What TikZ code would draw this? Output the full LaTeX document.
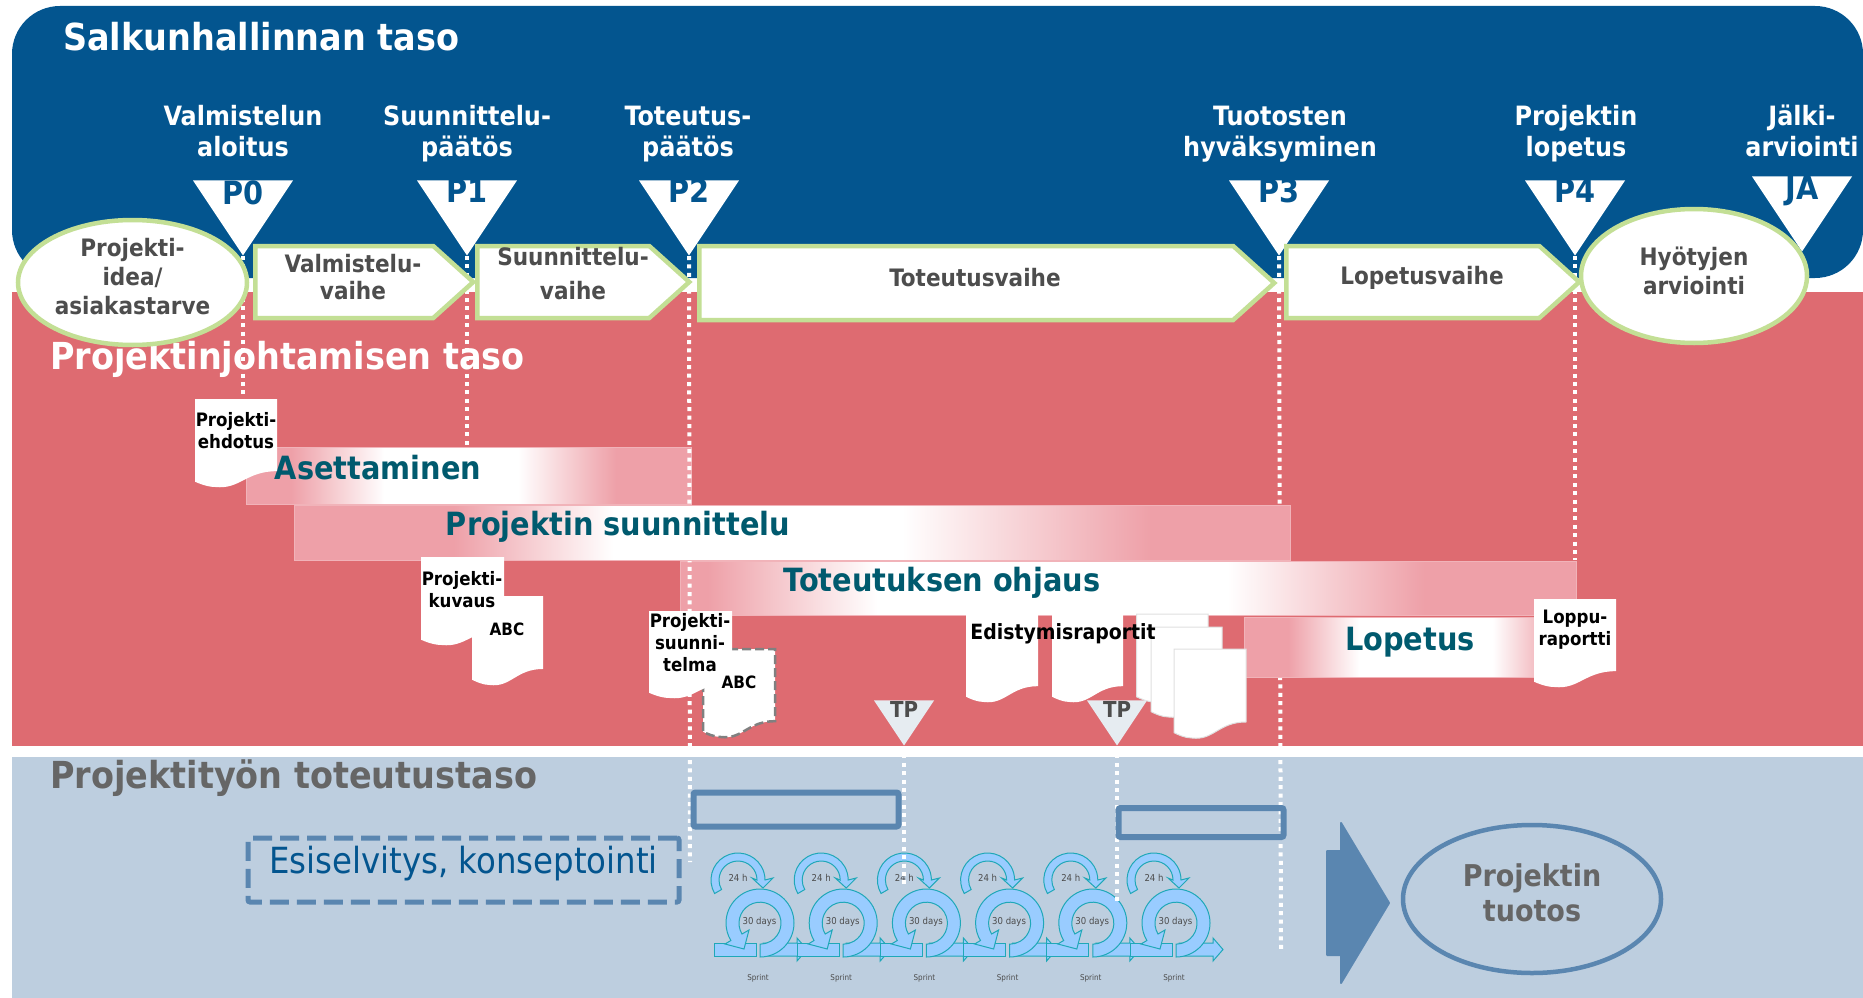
\documentclass[tikz,border=0pt]{standalone}
\usepackage{fontspec}
\setmainfont{DejaVu Sans Condensed}
\usepackage{xcolor}
\usepackage{tikz}
\usetikzlibrary{shapes.geometric, shapes.symbols, positioning}

\definecolor{salkublue}{HTML}{03558F}
\definecolor{johtored}{HTML}{DE6B71}
\definecolor{tasoblue}{HTML}{BDCEDF}
\definecolor{slateblue}{HTML}{5A86B0}
\definecolor{phasegreen}{HTML}{C3DF95}
\definecolor{darktext}{HTML}{4D4D4D}
\definecolor{greytext}{HTML}{666666}
\definecolor{tealtext}{HTML}{005A6E}
\definecolor{bandpink}{HTML}{EEA0A8}
\definecolor{sprintfill}{HTML}{99CCFF}
\definecolor{sprintline}{HTML}{1FA8B8}

\pgfdeclarehorizontalshading{asetusshade}{100bp}{color(0bp)=(bandpink); color(30bp)=(bandpink); color(40.5bp)=(white); color(55.5bp)=(white); color(66.5bp)=(bandpink); color(100bp)=(bandpink)}
\pgfdeclarehorizontalshading{suunnshade}{100bp}{color(0bp)=(bandpink); color(33bp)=(bandpink); color(41bp)=(white); color(55.5bp)=(white); color(68bp)=(bandpink); color(100bp)=(bandpink)}
\pgfdeclarehorizontalshading{ohjausshade}{100bp}{color(0bp)=(bandpink); color(26.5bp)=(bandpink); color(36bp)=(white); color(55.5bp)=(white); color(66.5bp)=(bandpink); color(100bp)=(bandpink)}
\pgfdeclarehorizontalshading{lopetusshade}{100bp}{color(0bp)=(bandpink); color(32bp)=(bandpink); color(43.5bp)=(white); color(65bp)=(white); color(75bp)=(bandpink); color(100bp)=(bandpink)}

\newcommand{\docpage}[5][docbody]{%
  \path[#1] (#2,#3) -- ++(#4,0) -- ++(0,{0.82*#5})
    .. controls ++({-0.38*#4},0) and ++({0.30*#4},{0.03*#5}) .. ++({-0.75*#4},{0.18*#5})
    .. controls ++({-0.10*#4},0) and ++({0.05*#4},{0.02*#5}) .. ++({-0.25*#4},{-0.06*#5})
    -- cycle;
}

\begin{document}
\begin{tikzpicture}[
    x=1pt, y=-1pt,
    leveltitle/.style={font=\fontsize{37.2}{42}\selectfont\bfseries, anchor=west, inner sep=0pt},
    gatehead/.style={font=\fontsize{26.6}{31}\selectfont\bfseries, text=white, align=center, inner sep=0pt},
    gate/.style={isosceles triangle, isosceles triangle stretches, shape border rotate=-90, fill=white, minimum width=100, minimum height=75, inner sep=0pt, anchor=apex},
    gatename/.style={font=\fontsize{32}{36}\selectfont\bfseries, text=salkublue, inner sep=0pt},
    phase/.style={signal, signal to=east, signal pointer angle=84, draw=phasegreen, line width=4.5pt, fill=white, minimum height=72, inner sep=0pt, anchor=west},
    phasetext/.style={font=\fontsize{24}{27}\selectfont\bfseries, text=darktext, align=center, inner sep=0pt},
    oval/.style={ellipse, draw=phasegreen, line width=4.5pt, fill=white, inner sep=0pt},
    dotline/.style={white, line width=4pt, dash pattern=on 4pt off 4.4pt},
    band/.style={rectangle, draw=bandpink!80!white, line width=1pt, inner sep=0pt, anchor=north west},
    bandtext/.style={font=\fontsize{32}{36}\selectfont\bfseries, text=tealtext, inner sep=0pt},
    docbody/.style={fill=white},
    docline/.style={fill=white, draw=black!12, line width=1pt},
    docdash/.style={fill=white, draw=black!50, line width=2.5pt, dash pattern=on 9pt off 4pt},
    doctext/.style={font=\fontsize{18.5}{22}\selectfont\bfseries, text=black, align=center, inner sep=0pt},
    abctext/.style={font=\fontsize{17}{20}\selectfont\bfseries, text=black, inner sep=0pt},
    tpgate/.style={isosceles triangle, isosceles triangle stretches, shape border rotate=-90, fill=black!3!tasoblue!35!white, minimum width=60, minimum height=45, inner sep=0pt, anchor=apex},
    tpname/.style={font=\fontsize{22}{26}\selectfont\bfseries, text=darktext, inner sep=0pt},
    workbox/.style={rectangle, draw=slateblue, line width=6pt, rounded corners=2pt, anchor=north west, inner sep=0pt},
    sprintshape/.style={fill=sprintfill, draw=sprintline, line width=1pt},
    sprinttext/.style={font=\fontsize{9.5}{11}\selectfont, text=black!70, inner sep=0pt}
]
\useasboundingbox (0,0) rectangle (1863,998);

% Levels
\fill[salkublue, rounded corners=48pt] (12,6) rectangle (1863,278);
\fill[johtored] (12,292) rectangle (1863,746);
\fill[tasoblue] (12,757) rectangle (1863,998);
\node[leveltitle, text=white] (salkutitle) at (63,37) {Salkunhallinnan taso};
\node[leveltitle, text=white] (johtotitle) at (50,359) {Projektinjohtamisen taso};
\node[leveltitle, text=greytext] (tasotitle) at (50,778) {Projektityön toteutustaso};

% Gates
\node[gate] (p0) at (243,256) {};
\node[gate] (p1) at (467,256) {};
\node[gate] (p2) at (689,256) {};
\node[gate] (p3) at (1279,256) {};
\node[gate] (p4) at (1575,256) {};
\node[gate] (ja) at (1802,252) {};
\node[gatename] (p0name) at (243,193) {P0};
\node[gatename] (p1name) at (467,191) {P1};
\node[gatename] (p2name) at (689,191) {P2};
\node[gatename] (p3name) at (1279,191) {P3};
\node[gatename] (p4name) at (1575,191) {P4};
\node[gatename] (janame) at (1802,191) {JA};
\node[gatehead] (p0head) at (243,135) {\strut Valmistelun\\aloitus\strut};
\node[gatehead] (p1head) at (467,135) {\strut Suunnittelu-\\päätös\strut};
\node[gatehead] (p2head) at (688,135) {\strut Toteutus-\\päätös\strut};
\node[gatehead] (p3head) at (1280,135) {\strut Tuotosten\\hyväksyminen\strut};
\node[gatehead] (p4head) at (1576,135) {\strut Projektin\\lopetus\strut};
\node[gatehead] (jahead) at (1802,135) {\strut Jälki-\\arviointi\strut};

% Bands and the dotted gate lines between them
\coordinate (p0end) at (243,399);
\coordinate (p1end) at (467,446);
\coordinate (p2end) at (690,862);
\coordinate (p3end) at (1281,950);
\coordinate (p4end) at (1575,560);
\node[band, shading=asetusshade, minimum width=445, minimum height=57] (asetus) at (246,447) {};
\draw[dotline] (p3.apex) -- (p3end);
\node[band, shading=ohjausshade, minimum width=896, minimum height=54] (ohjaus) at (680,561) {};
\node[band, shading=lopetusshade, minimum width=310, minimum height=60] (lopetus) at (1244,617) {};
\draw[dotline] (p0.apex) -- (p0end);
\draw[dotline] (p1.apex) -- (p1end);
\draw[dotline] (p2.apex) -- (p2end);
\draw[dotline] (p4.apex) -- (p4end);
\node[band, shading=suunnshade, minimum width=996, minimum height=55] (suunn) at (294,505) {};
\node[bandtext] (asetustext) at (378,468) {Asettaminen};
\node[bandtext] (suunntext) at (618,527) {Projektin suunnittelu};
\node[bandtext] (ohjaustext) at (942,583) {Toteutuksen ohjaus};
\node[bandtext] (lopetustext) at (1410,642) {Lopetus};

% Phases
\node[phase, minimum width=218] (valmvaihe) at (253,282) {};
\node[phase, minimum width=212] (suunnvaihe) at (475,282) {};
\node[phase, minimum width=575, minimum height=74] (totevaihe) at (697,283) {};
\node[phase, minimum width=293] (lopvaihe) at (1284,282) {};
\node[phasetext] (valmtext) at (353,277) {Valmistelu-\\vaihe};
\node[phasetext, font=\fontsize{24}{34}\selectfont\bfseries] (suunntext2) at (573,274) {Suunnittelu-\\vaihe};
\node[phasetext] (totetext) at (975,278) {Toteutusvaihe};
\node[phasetext] (loptext) at (1422,278) {Lopetusvaihe};
\node[oval, minimum width=229, minimum height=125] (ideaoval) at (132.5,282.5) {};
\node[phasetext, font=\fontsize{24}{29}\selectfont\bfseries] (ideatext) at (132.5,276.5) {Projekti-\\idea/\\asiakastarve};
\node[oval, minimum width=226, minimum height=134] (hyotyoval) at (1694,276) {};
\node[phasetext, font=\fontsize{24}{29}\selectfont\bfseries] (hyotytext) at (1694,270.5) {Hyötyjen\\arviointi};

% Documents
\docpage{195}{399}{82}{88}
\node[doctext] (ehdotus) at (236,431) {Projekti-\\ehdotus};
\docpage{472}{596}{71}{89}
\docpage{421}{557}{83}{88}
\node[abctext] (abcone) at (507,629) {ABC};
\node[doctext] (kuvaus) at (462,590) {Projekti-\\kuvaus};
\docpage[docdash]{703}{649}{72}{88}
\docpage{649}{611}{83}{87}
\node[abctext] (abctwo) at (739,682) {ABC};
\node[doctext] (suunnitelma) at (690,643) {Projekti-\\suunni-\\telma};
\docpage{966}{614}{72}{88}
\docpage{1052}{614}{71}{88}
\docpage[docline]{1136.5}{614}{71.5}{88}
\docpage[docline]{1151}{627}{71}{90}
\docpage[docline]{1174}{649}{72}{89}
\node[doctext, font=\fontsize{21}{24}\selectfont\bfseries] (edistys) at (1063,634) {Edistymisraportit};
\docpage{1534}{599}{82}{88}
\node[doctext] (loppu) at (1575,630) {Loppu-\\raportti};

% Team gates
\node[tpgate] (tpone) at (904,746) {};
\node[tpgate] (tptwo) at (1117,746) {};
\node[tpname] (tponename) at (904,709) {TP};
\node[tpname] (tptwoname) at (1117,709) {TP};
\coordinate (tponeend) at (904,887);
\coordinate (tptwoend) at (1117,905);

% Sprints
\foreach \i in {0,...,5}{
\begin{scope}[shift={({738+83.2*\i},880)}, y=1pt]
  \draw[sprintshape] (210:27pt) arc (210:0:27pt) -- (35,2) -- (25,-8) -- (14,2) -- (19,0) arc (0:210:19pt) -- cycle;
  \draw[sprintshape] (25,-63) -- (59,-63) -- (59,-58) -- (69,-69.5) -- (59,-81) -- (59,-76) -- (25,-76) -- cycle;
  \draw[sprintshape] (-24,-63) rectangle (18,-76);
  \draw[sprintshape] (22,-77) arc (-90:211:34pt) -- (-13,-64) -- (6,-69) -- (11,-50) -- (4,-54) arc (211:-90:21pt) -- cycle;
  \node[sprinttext] (hour\i) at (0,2) {24 h};
  \node[sprinttext] (day\i) at (21.5,-42) {30 days};
  \node[sprinttext, font=\fontsize{8}{10}\selectfont] (sprint\i) at (20,-98) {Sprint};
\end{scope}
}

\draw[dotline] (tpone.apex) -- (tponeend);
\draw[dotline] (tptwo.apex) -- (tptwoend);

% Work level
\node[workbox, minimum width=205, minimum height=34] (boxone) at (690.5,789.5) {};
\node[workbox, minimum width=165, minimum height=29] (boxtwo) at (1115.5,805) {};
\node[rectangle, draw=slateblue, line width=5pt, dash pattern=on 19pt off 8pt, rounded corners=2pt, minimum width=431, minimum height=64, inner sep=0pt] (esibox) at (463.5,870) {};
\node[font=\fontsize{36}{40}\selectfont, text=salkublue, inner sep=0pt] (esitext) at (463.5,864) {Esiselvitys, konseptointi};
\fill[slateblue, line join=round, draw=slateblue, line width=2pt] (1327,851) -- (1341,851) -- (1341,823) -- (1389,903) -- (1341,983) -- (1341,955) -- (1327,955) -- cycle;
\node[ellipse, draw=slateblue, line width=4.5pt, minimum width=258, minimum height=148, inner sep=0pt] (tuotos) at (1532,899) {};
\node[font=\fontsize{30}{35}\selectfont\bfseries, text=greytext, align=center, inner sep=0pt] (tuotostext) at (1532,893) {Projektin\\tuotos};

\end{tikzpicture}
\end{document}
